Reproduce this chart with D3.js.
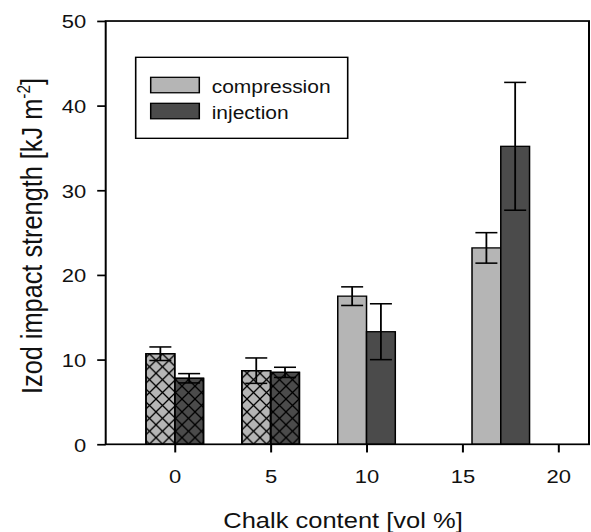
<!DOCTYPE html>
<html>
<head>
<meta charset="utf-8">
<script src="https://cdn.jsdelivr.net/npm/d3@7"></script>
<style>
	body { margin: 0; background: #fff; }
	svg { display: block; font-family: "Liberation Sans", Arial, sans-serif; }
</style>
</head>
<body>
<svg id="chart"></svg>
<script>
let chalk = [0, 5, 10, 17];
let compression = [10.7, 8.7, 17.5, 23.2];
let compressionErr = [0.8, 1.5, 1.1, 1.8];
let injection = [7.8, 8.5, 13.3, 35.2];
let injectionErr = [0.55, 0.6, 3.3, 7.55];
let hatched = [true, true, false, false];
let xTicks = [0, 5, 10, 15, 20];
let yTicks = [0, 10, 20, 30, 40, 50];
let series = ["compression", "injection"];

// the reference is squashed vertically, so draw on a taller canvas and squeeze it
let W = 591, H = 620;
let svg = d3.select("#chart")
	.attr("width", 591)
	.attr("height", 532)
	.attr("viewBox", "0 0 " + W + " " + H)
	.attr("preserveAspectRatio", "none");

let pLeft = 105.7, pRight = 589, pTop = 24.5, pBottom = 517.8;
let x = d3.scaleLinear().domain([-3.6, 21.6]).range([pLeft, pRight]);
let y = d3.scaleLinear().domain([0, 50]).range([pBottom, pTop]);
let barW = x(1.5) - x(0);
let colors = { compression: "#b5b5b5", injection: "#4b4b4b" };

let defs = svg.append("defs");
let pat = defs.append("pattern")
	.attr("id", "cross")
	.attr("patternUnits", "userSpaceOnUse")
	.attr("width", 13)
	.attr("height", 15);
pat.append("path")
	.attr("d", "M0,0L13,15M0,15L13,0")
	.attr("stroke", "#000")
	.attr("stroke-width", 1.4);

let rows = chalk.map((c, i) => ({
	c: c,
	values: [
		{ key: "compression", v: compression[i], e: compressionErr[i], off: -0.75, hatch: hatched[i] },
		{ key: "injection", v: injection[i], e: injectionErr[i], off: 0.75, hatch: hatched[i] }
	]
}));

let g = svg.append("g");
let groups = g.selectAll("g.grp").data(rows).enter().append("g").attr("class", "grp");

groups.selectAll("rect.bar").data(d => d.values.map(v => Object.assign({ c: d.c }, v)))
	.enter().append("rect")
	.attr("x", d => x(d.c + d.off) - barW / 2)
	.attr("y", d => y(d.v))
	.attr("width", barW)
	.attr("height", d => y(0) - y(d.v))
	.attr("fill", d => colors[d.key])
	.attr("stroke", "#000")
	.attr("stroke-width", 1.5);

groups.selectAll("rect.hatch").data(d => d.values.filter(v => v.hatch).map(v => Object.assign({ c: d.c }, v)))
	.enter().append("rect")
	.attr("x", d => x(d.c + d.off) - barW / 2)
	.attr("y", d => y(d.v))
	.attr("width", barW)
	.attr("height", d => y(0) - y(d.v))
	.attr("fill", "url(#cross)")
	.attr("stroke", "#000")
	.attr("stroke-width", 1.5);

let capW = 22;
let err = groups.selectAll("g.err").data(d => d.values.map(v => Object.assign({ c: d.c }, v)))
	.enter().append("g")
	.attr("stroke", "#000")
	.attr("stroke-width", 1.8);
err.append("line")
	.attr("x1", d => x(d.c + d.off)).attr("x2", d => x(d.c + d.off))
	.attr("y1", d => y(d.v - d.e)).attr("y2", d => y(d.v + d.e));
err.append("line")
	.attr("x1", d => x(d.c + d.off) - capW / 2).attr("x2", d => x(d.c + d.off) + capW / 2)
	.attr("y1", d => y(d.v + d.e)).attr("y2", d => y(d.v + d.e));
err.append("line")
	.attr("x1", d => x(d.c + d.off) - capW / 2).attr("x2", d => x(d.c + d.off) + capW / 2)
	.attr("y1", d => y(d.v - d.e)).attr("y2", d => y(d.v - d.e));

// frame
svg.append("rect")
	.attr("x", pLeft).attr("y", pTop)
	.attr("width", pRight - pLeft).attr("height", pBottom - pTop)
	.attr("fill", "none")
	.attr("stroke", "#000")
	.attr("stroke-width", 2);

let xAxis = svg.append("g")
	.attr("transform", "translate(0," + pBottom + ")")
	.call(d3.axisBottom(x).tickValues(xTicks).tickSize(9.5).tickPadding(20).tickFormat(d3.format("d")));
let yAxis = svg.append("g")
	.attr("transform", "translate(" + pLeft + ",0)")
	.call(d3.axisLeft(y).tickValues(yTicks).tickSize(8.5).tickPadding(11));
[xAxis, yAxis].forEach(a => {
	a.select(".domain").remove();
	a.selectAll(".tick line").attr("stroke", "#000").attr("stroke-width", 2);
	a.selectAll(".tick text").attr("fill", "#111").style("font-size", "22px").style("font-family", "Liberation Sans, Arial, sans-serif");
});
yAxis.selectAll(".tick text").attr("dy", "0.36em");

svg.append("text")
	.attr("x", 343)
	.attr("y", 615)
	.attr("text-anchor", "middle")
	.style("font-size", "25.5px")
	.attr("fill", "#111")
	.text("Chalk content [vol %]");

let yt = svg.append("text")
	.attr("transform", "translate(42,275) rotate(-90)")
	.attr("text-anchor", "middle")
	.style("font-size", "29.5px")
	.attr("fill", "#111");
yt.append("tspan").text("Izod impact strength [kJ m");
yt.append("tspan").attr("dy", -12).style("font-size", "18px").text("-2");
yt.append("tspan").attr("dy", 12).text("]");

// legend
let lg = svg.append("g");
lg.append("rect")
	.attr("x", 135.7).attr("y", 66.8)
	.attr("width", 212).attr("height", 94.4)
	.attr("fill", "#fff")
	.attr("stroke", "#000")
	.attr("stroke-width", 1.6);
let items = lg.selectAll("g.item").data(series).enter().append("g")
	.attr("transform", (d, i) => "translate(0," + i * 30.3 + ")");
items.append("rect")
	.attr("x", 150.7).attr("y", 90.1)
	.attr("width", 48.6).attr("height", 18)
	.attr("fill", d => colors[d])
	.attr("stroke", "#000")
	.attr("stroke-width", 1.5);
items.append("text")
	.attr("x", 211.7).attr("y", 108)
	.style("font-size", "21px")
	.attr("fill", "#111")
	.text(d => d);
</script>
</body>
</html>
